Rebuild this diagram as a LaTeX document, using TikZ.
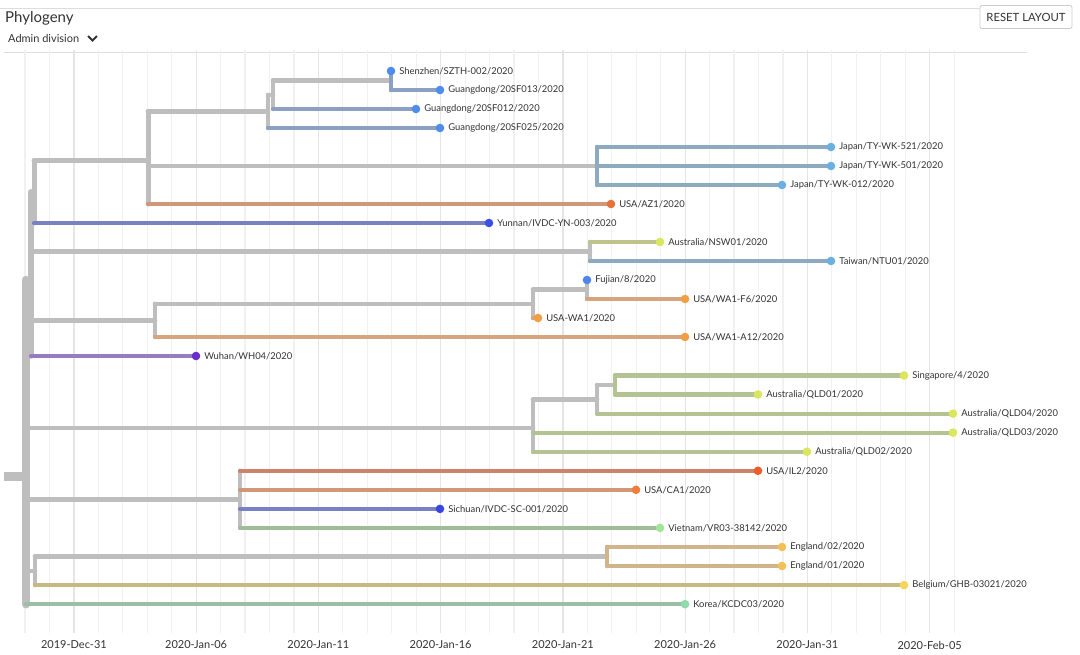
\documentclass[tikz,border=0pt]{standalone}
\usepackage{fontspec}
\setmainfont{Lato}
\usetikzlibrary{positioning}

\definecolor{treegray}{HTML}{BEBEBE}
\definecolor{labelgray}{HTML}{333333}
\definecolor{gridminor}{HTML}{F1F1F1}
\definecolor{gridmajor}{HTML}{E5E5E5}
\definecolor{hdrline}{HTML}{DDDDDD}
\definecolor{btnline}{HTML}{CCCCCC}
% branch colours
\definecolor{bGD}{HTML}{8CA0C3}
\definecolor{bJP}{HTML}{8DAABE}
\definecolor{bUS}{HTML}{D29678}
\definecolor{bYN}{HTML}{7882C3}
\definecolor{bNSW}{HTML}{BEC38C}
\definecolor{bWA}{HTML}{D7A57D}
\definecolor{bWH}{HTML}{967DC3}
\definecolor{bQLD}{HTML}{B4C391}
\definecolor{bIL}{HTML}{CD826E}
\definecolor{bVN}{HTML}{A0BE96}
\definecolor{bEN}{HTML}{D2B48C}
\definecolor{bBE}{HTML}{C8B982}
\definecolor{bKR}{HTML}{9BBEA5}
% tip colours
\definecolor{dGD}{HTML}{4E8DEB}
\definecolor{dJP}{HTML}{6CB0E2}
\definecolor{dAZ}{HTML}{E8713A}
\definecolor{dYN}{HTML}{3C4FE6}
\definecolor{dAU}{HTML}{DAE65E}
\definecolor{dFJ}{HTML}{4F86EE}
\definecolor{dWA}{HTML}{F29E47}
\definecolor{dWH}{HTML}{6B2FC9}
\definecolor{dIL}{HTML}{EE5A2A}
\definecolor{dCA}{HTML}{EE7C3A}
\definecolor{dSC}{HTML}{3B45E2}
\definecolor{dVN}{HTML}{A5E39A}
\definecolor{dEN}{HTML}{F4BF55}
\definecolor{dBE}{HTML}{F5D55E}
\definecolor{dKR}{HTML}{8FDCAA}

\tikzstyle{branch} = [line width=4.2pt, line cap=round]
\tikzstyle{stem} = [line width=4.6pt, line cap=round, draw=treegray]
\tikzstyle{tipdot} = [circle, inner sep=0pt, minimum size=8.6pt]
\tikzstyle{tiplabel} = [font=\fontsize{9.4}{11}\selectfont, text=labelgray, inner sep=0pt, xshift=3.6pt]
\tikzstyle{axislabel} = [font=\fontsize{11}{13}\selectfont, text=labelgray]

\begin{document}
\begin{tikzpicture}[x=1pt, y=-1pt]
  \useasboundingbox[fill=white] (0,0) rectangle (1080,654);

  % header
  \node[anchor=west, font=\fontsize{15}{18}\selectfont, text=labelgray, inner sep=0pt] (title) at (5,18) {Phylogeny};
  \node[anchor=west, font=\fontsize{11}{13}\selectfont, text=labelgray, inner sep=0pt] (colorby) at (8,38.5) {Admin division};
  \draw[line width=2pt, labelgray] (88,36) -- (92.5,40.5) -- (97,36);
  \node[draw=btnline, line width=0.8pt, rounded corners=2pt, minimum width=92pt, minimum height=23pt,
        font=\fontsize{11.3}{13}\selectfont, text=labelgray] (reset) at (1026,17) {RESET LAYOUT};
  \draw[hdrline, line width=1pt] (0,8) -- (reset.west |- 0,8);
  \draw[hdrline, line width=1pt] (4,52) -- (1027,52);

  % time grid
  \foreach \k in {0,...,38}
    \draw[gridminor, line width=1.2pt] ({25+24.45*\k},50) -- ({25+24.45*\k},633);
  \foreach \k in {2,7,...,37}
    \draw[gridmajor, line width=1.2pt] ({25+24.45*\k},50) -- ({25+24.45*\k},633);
  \foreach \k/\d in {2/2019-Dec-31, 7/2020-Jan-06, 12/2020-Jan-11, 17/2020-Jan-16,
                     22/2020-Jan-21, 27/2020-Jan-26, 32/2020-Jan-31, 37/2020-Feb-05}
    \node[axislabel] (ax\k) at ({25+24.45*\k},645) {\d};

  % tips
  \coordinate (sz) at (391,71);
  \coordinate (gd13) at (440,90);
  \coordinate (gd12) at (416,109);
  \coordinate (gd25) at (440,128);
  \coordinate (jp521) at (831,147);
  \coordinate (jp501) at (831,166);
  \coordinate (jp012) at (782,185);
  \coordinate (az1) at (611,204);
  \coordinate (yn) at (489,223);
  \coordinate (nsw) at (660,242);
  \coordinate (tw) at (831,261);
  \coordinate (fjn) at (587,280);
  \coordinate (waF6) at (685,299);
  \coordinate (wa1) at (538,318);
  \coordinate (waA12) at (685,337);
  \coordinate (wh) at (196,356);
  \coordinate (sgp) at (904,375.5);
  \coordinate (qld1) at (758,394.5);
  \coordinate (qld4) at (953,413.6);
  \coordinate (qld3) at (953,432.6);
  \coordinate (qld2) at (807,451.7);
  \coordinate (il2) at (758,470.8);
  \coordinate (ca1) at (636,489.8);
  \coordinate (sc) at (440,508.9);
  \coordinate (vn) at (660,527.9);
  \coordinate (en2) at (782,547);
  \coordinate (en1) at (782,566);
  \coordinate (be) at (904,585.1);
  \coordinate (kr) at (685,604.2);

  % internal nodes
  \coordinate (gSZ) at (391,80.5);
  \coordinate (gA) at (273,94.8);
  \coordinate (gB) at (268,111.4);
  \coordinate (jp) at (597,166);
  \coordinate (top) at (148,160.5);
  \coordinate (n1) at (34,191.8);
  \coordinate (ausTw) at (590,251.5);
  \coordinate (fj) at (587,289.5);
  \coordinate (wa) at (533,303.8);
  \coordinate (waTop) at (155,320.5);
  \coordinate (n2) at (31,280);
  \coordinate (sg) at (615,385);
  \coordinate (sgB) at (597,399.3);
  \coordinate (qld) at (533,427.9);
  \coordinate (il) at (240,499.4);
  \coordinate (eng) at (607,556.5);
  \coordinate (engBel) at (35,570.8);
  \coordinate (root) at (26,476.5);
  \coordinate (stub) at (4,476.5);

  % internal branches
  \draw[stem, line width=9pt, line cap=butt] (stub) -- (root);
  \draw[stem, line width=8.5pt] (root |- n2) -- (root |- kr);
  \draw[stem, line width=5.5pt] (n2 |- n1) -- (n2 |- wh);
  \draw[stem] (root |- n2) -- (n2);
  \draw[stem, line width=5pt] (n1 |- top) -- (n1 |- yn);
  \draw[stem] (n2 |- n1) -- (n1);
  \draw[stem, line width=5pt] (n1 |- top) -- (top);
  \draw[stem, line width=5pt] (top |- gB) -- (top |- az1);
  \draw[stem] (top |- gB) -- (gB);
  \draw[stem] (gB |- gA) -- (gB |- gd25);
  \draw[stem] (gB |- gA) -- (gA);
  \draw[stem] (gA |- gSZ) -- (gA |- gd12);
  \draw[stem] (gA |- gSZ) -- (gSZ);
  \draw[stem, draw=bGD] (gSZ |- sz) -- (gSZ |- gd13);
  \draw[stem] (top |- jp) -- (jp);
  \draw[stem, draw=bJP] (jp |- jp521) -- (jp |- jp012);
  \draw[stem] (n2 |- ausTw) -- (ausTw);
  \draw[stem] (ausTw |- nsw) -- (ausTw |- tw);
  \draw[stem] (n2 |- waTop) -- (waTop);
  \draw[stem] (waTop |- wa) -- (waTop |- waA12);
  \draw[stem] (waTop |- wa) -- (wa);
  \draw[stem] (wa |- fj) -- (wa |- wa1);
  \draw[stem] (wa |- fj) -- (fj);
  \draw[stem] (fj |- fjn) -- (fj |- waF6);
  \draw[stem] (root |- qld) -- (qld);
  \draw[stem] (qld |- sgB) -- (qld |- qld2);
  \draw[stem] (qld |- sgB) -- (sgB);
  \draw[stem] (sgB |- sg) -- (sgB |- qld4);
  \draw[stem] (sgB |- sg) -- (sg);
  \draw[stem, draw=bQLD] (sg |- sgp) -- (sg |- qld1);
  \draw[stem] (root |- il) -- (il);
  \draw[stem] (il |- il2) -- (il |- vn);
  \draw[stem] (root |- engBel) -- (engBel);
  \draw[stem] (engBel |- eng) -- (engBel |- be);
  \draw[stem] (engBel |- eng) -- (eng);
  \draw[stem, draw=bEN] (eng |- en2) -- (eng |- en1);

  % tip branches
  \draw[branch, bGD] (gSZ |- gd13) -- (gd13);
  \draw[branch, bGD] (gA |- gd12) -- (gd12);
  \draw[branch, bGD] (gB |- gd25) -- (gd25);
  \draw[branch, bJP] (jp |- jp521) -- (jp521);
  \draw[branch, bJP] (jp |- jp501) -- (jp501);
  \draw[branch, bJP] (jp |- jp012) -- (jp012);
  \draw[branch, bUS] (top |- az1) -- (az1);
  \draw[branch, bYN] (n1 |- yn) -- (yn);
  \draw[branch, bNSW] (ausTw |- nsw) -- (nsw);
  \draw[branch, bJP] (ausTw |- tw) -- (tw);
  \draw[branch, bWA] (fj |- waF6) -- (waF6);
  \draw[branch, bWA] (wa |- wa1) -- (wa1);
  \draw[branch, bWA] (waTop |- waA12) -- (waA12);
  \draw[branch, bWH] (n2 |- wh) -- (wh);
  \draw[branch, bQLD] (sg |- sgp) -- (sgp);
  \draw[branch, bQLD] (sg |- qld1) -- (qld1);
  \draw[branch, bQLD] (sgB |- qld4) -- (qld4);
  \draw[branch, bQLD] (qld |- qld3) -- (qld3);
  \draw[branch, bQLD] (qld |- qld2) -- (qld2);
  \draw[branch, bIL] (il |- il2) -- (il2);
  \draw[branch, bUS] (il |- ca1) -- (ca1);
  \draw[branch, bYN] (il |- sc) -- (sc);
  \draw[branch, bVN] (il |- vn) -- (vn);
  \draw[branch, bEN] (eng |- en2) -- (en2);
  \draw[branch, bEN] (eng |- en1) -- (en1);
  \draw[branch, bBE] (engBel |- be) -- (be);
  \draw[branch, bKR] (root |- kr) -- (kr);

  % tip dots and names
  \node[tipdot, fill=dGD, label={[tiplabel]right:Shenzhen/SZTH-002/2020}] (tSZ) at (sz) {};
  \node[tipdot, fill=dGD, label={[tiplabel]right:Guangdong/20SF013/2020}] (tGD13) at (gd13) {};
  \node[tipdot, fill=dGD, label={[tiplabel]right:Guangdong/20SF012/2020}] (tGD12) at (gd12) {};
  \node[tipdot, fill=dGD, label={[tiplabel]right:Guangdong/20SF025/2020}] (tGD25) at (gd25) {};
  \node[tipdot, fill=dJP, label={[tiplabel]right:Japan/TY-WK-521/2020}] (tJP521) at (jp521) {};
  \node[tipdot, fill=dJP, label={[tiplabel]right:Japan/TY-WK-501/2020}] (tJP501) at (jp501) {};
  \node[tipdot, fill=dJP, label={[tiplabel]right:Japan/TY-WK-012/2020}] (tJP012) at (jp012) {};
  \node[tipdot, fill=dAZ, label={[tiplabel]right:USA/AZ1/2020}] (tAZ1) at (az1) {};
  \node[tipdot, fill=dYN, label={[tiplabel]right:Yunnan/IVDC-YN-003/2020}] (tYN) at (yn) {};
  \node[tipdot, fill=dAU, label={[tiplabel]right:Australia/NSW01/2020}] (tNSW) at (nsw) {};
  \node[tipdot, fill=dJP, label={[tiplabel]right:Taiwan/NTU01/2020}] (tTW) at (tw) {};
  \node[tipdot, fill=dFJ, label={[tiplabel]right:Fujian/8/2020}] (tFJ) at (fjn) {};
  \node[tipdot, fill=dWA, label={[tiplabel]right:USA/WA1-F6/2020}] (tWAF6) at (waF6) {};
  \node[tipdot, fill=dWA, label={[tiplabel]right:USA-WA1/2020}] (tWA1) at (wa1) {};
  \node[tipdot, fill=dWA, label={[tiplabel]right:USA/WA1-A12/2020}] (tWAA12) at (waA12) {};
  \node[tipdot, fill=dWH, label={[tiplabel]right:Wuhan/WH04/2020}] (tWH) at (wh) {};
  \node[tipdot, fill=dAU, label={[tiplabel]right:Singapore/4/2020}] (tSGP) at (sgp) {};
  \node[tipdot, fill=dAU, label={[tiplabel]right:Australia/QLD01/2020}] (tQLD1) at (qld1) {};
  \node[tipdot, fill=dAU, label={[tiplabel]right:Australia/QLD04/2020}] (tQLD4) at (qld4) {};
  \node[tipdot, fill=dAU, label={[tiplabel]right:Australia/QLD03/2020}] (tQLD3) at (qld3) {};
  \node[tipdot, fill=dAU, label={[tiplabel]right:Australia/QLD02/2020}] (tQLD2) at (qld2) {};
  \node[tipdot, fill=dIL, label={[tiplabel]right:USA/IL2/2020}] (tIL2) at (il2) {};
  \node[tipdot, fill=dCA, label={[tiplabel]right:USA/CA1/2020}] (tCA1) at (ca1) {};
  \node[tipdot, fill=dSC, label={[tiplabel]right:Sichuan/IVDC-SC-001/2020}] (tSC) at (sc) {};
  \node[tipdot, fill=dVN, label={[tiplabel]right:Vietnam/VR03-38142/2020}] (tVN) at (vn) {};
  \node[tipdot, fill=dEN, label={[tiplabel]right:England/02/2020}] (tEN2) at (en2) {};
  \node[tipdot, fill=dEN, label={[tiplabel]right:England/01/2020}] (tEN1) at (en1) {};
  \node[tipdot, fill=dBE, label={[tiplabel]right:Belgium/GHB-03021/2020}] (tBE) at (be) {};
  \node[tipdot, fill=dKR, label={[tiplabel]right:Korea/KCDC03/2020}] (tKR) at (kr) {};
\end{tikzpicture}
\end{document}
